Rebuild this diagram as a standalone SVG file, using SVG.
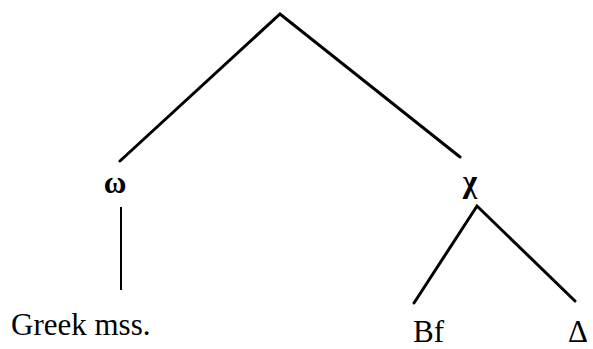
<svg xmlns="http://www.w3.org/2000/svg" width="593" height="349" viewBox="0 0 593 349">
<style>
.e{stroke:#000;stroke-width:3;fill:none;stroke-linecap:round;stroke-linejoin:miter}
.v{stroke:#000;stroke-width:2;fill:none}
.g{font-family:"Liberation Serif","DejaVu Serif",serif;font-size:31px;font-weight:bold;fill:#000}
.t{font-family:"Liberation Serif","DejaVu Serif",serif;font-size:31px;fill:#000}
</style>
<rect width="593" height="349" fill="#fff"/>
<g id="connectors">
<polyline class="e" points="120,161 280,14 460,157"/>
<line class="v" x1="121" y1="207" x2="121" y2="290"/>
<polyline class="e" points="414,303 477,206 575,301"/>
</g>
<g id="omega"><text class="g" x="115" y="193" text-anchor="middle">ω</text></g>
<g id="chi"><text class="g" x="470" y="192" text-anchor="middle">χ</text></g>
<g id="greek"><text class="t" x="11" y="335">Greek mss.</text></g>
<g id="bf"><text class="t" x="413" y="342">Bf</text></g>
<g id="delta"><text class="t" x="568" y="342">Δ</text></g>
</svg>
